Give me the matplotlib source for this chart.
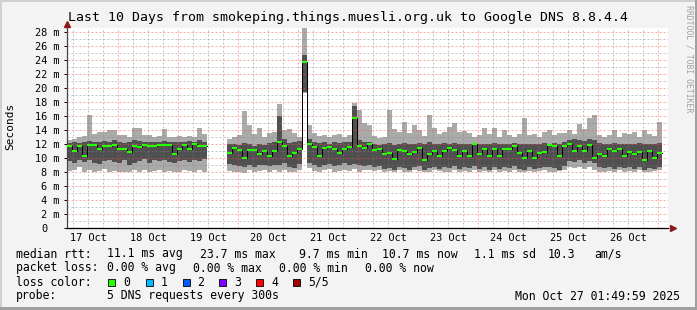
import numpy as np
import matplotlib
matplotlib.use("Agg")
import matplotlib.pyplot as plt
from matplotlib.patches import Rectangle
from matplotlib.transforms import ScaledTranslation

W, H = 697, 310

# ---------------- data (ms), one value per 2-hour step ----------------
step_hours = 2.0
start_hour = 3.6  # hours after 17 Oct 00:00
nan = np.nan

light_top = [12.6, 12.8, 13.0, 13.2, 16.2, 13.5, 13.8, 13.8, 14.0, 14.0,
             13.3, 13.3, 13.0, 14.3, 14.3, 13.4, 13.3, 13.0, 13.2, 14.2,
             13.0, 13.0, 13.2, 13.0, 13.2, 13.0, 14.3, 13.5, nan, nan,
             nan, nan, 12.8, 13.0, 13.4, 16.7, 14.8, 13.5, 14.3, 13.0,
             13.6, 13.8, 17.8, 14.0, 14.2, 13.6, 13.1, 28.6, 14.8, 13.6,
             13.2, 13.4, 13.0, 13.3, 13.5, 13.1, 13.4, 17.9, 16.9, 15.0,
             14.8, 13.2, 12.9, 13.0, 16.9, 14.2, 13.8, 15.2, 13.6, 14.8,
             14.0, 13.2, 16.2, 14.4, 13.5, 13.8, 14.5, 15.0, 13.7, 13.9,
             13.6, 13.0, 13.3, 14.3, 13.5, 14.3, 13.0, 14.0, 13.4, 13.1,
             13.5, 15.8, 13.4, 13.5, 13.0, 13.8, 14.0, 13.4, 13.6, 13.6,
             14.0, 13.5, 14.9, 14.2, 15.7, 16.2, 13.3, 13.0, 13.4, 14.0,
             13.1, 13.6, 13.5, 13.8, 13.0, 14.0, 13.5, 13.2, 15.2]
dark_top = [12.2, 12.3, 12.2, 12.4, 12.5, 12.3, 12.4, 12.5, 12.4, 12.6,
            12.3, 12.2, 12.3, 12.6, 12.5, 12.4, 12.3, 12.3, 12.4, 12.5,
            12.3, 12.4, 12.4, 12.3, 12.5, 12.4, 12.6, 12.4, nan, nan,
            nan, nan, 12.0, 12.1, 11.9, 12.2, 12.0, 11.8, 12.1, 11.9,
            12.2, 12.3, 16.0, 12.8, 12.2, 12.4, 12.5, 24.7, 12.8, 12.4,
            12.2, 12.3, 12.1, 12.4, 12.2, 12.3, 12.4, 17.5, 12.6, 12.4,
            12.3, 12.0, 11.9, 12.1, 12.2, 11.9, 12.0, 12.2, 12.0, 12.1,
            12.2, 12.0, 12.3, 12.1, 12.0, 12.2, 12.1, 12.2, 12.0, 12.1,
            12.1, 12.2, 12.0, 12.1, 12.0, 12.2, 12.0, 12.1, 12.0, 12.2,
            12.0, 12.1, 12.0, 12.1, 12.0, 12.2, 12.1, 12.2, 12.0, 12.3,
            12.6, 12.7, 12.6, 12.5, 12.7, 12.6, 12.2, 12.1, 12.0, 12.2,
            12.1, 12.0, 12.1, 12.0, 12.2, 12.0, 12.1, 12.0, 12.2]
median = [11.8, 11.1, 11.8, 10.4, 11.9, 11.9, 11.4, 11.8, 11.8, 11.9,
          11.4, 11.4, 10.9, 11.8, 11.6, 11.9, 11.8, 11.8, 11.9, 11.9,
          11.9, 10.6, 11.4, 11.9, 11.4, 12.0, 11.8, 11.8, nan, nan,
          nan, nan, 10.8, 11.5, 11.2, 10.0, 11.2, 11.2, 10.6, 11.1,
          10.4, 11.0, 12.3, 11.7, 10.4, 10.7, 11.4, 23.7, 12.0, 11.6,
          10.4, 11.5, 11.6, 11.4, 10.8, 11.4, 11.6, 15.7, 11.8, 11.5,
          12.0, 11.2, 11.4, 10.6, 10.8, 9.9, 11.2, 11.1, 10.6, 10.9,
          11.5, 9.8, 10.6, 11.1, 10.3, 11.0, 11.5, 11.2, 10.4, 11.1,
          10.3, 12.0, 10.6, 11.4, 10.3, 11.4, 10.3, 11.3, 11.4, 11.8,
          10.8, 10.1, 11.1, 10.1, 10.8, 10.9, 11.9, 11.8, 10.3, 11.8,
          12.0, 11.1, 11.8, 11.1, 11.9, 10.0, 10.6, 10.4, 11.4, 11.0,
          11.4, 10.4, 10.9, 10.6, 10.9, 9.8, 11.0, 10.0, 10.7]
dark_bottom = [9.6, 9.3, 9.8, 9.5, 9.7, 9.4, 9.2, 9.6, 9.8, 9.5,
               9.3, 9.8, 9.1, 9.4, 9.6, 9.9, 9.4, 9.7, 9.6, 9.8,
               9.5, 9.3, 9.6, 9.8, 9.5, 9.7, 9.6, 9.9, nan, nan,
               nan, nan, 9.2, 9.0, 8.9, 8.8, 9.0, 8.7, 9.1, 9.0,
               8.9, 9.1, 9.0, 9.3, 8.8, 8.6, 9.2, 19.5, 9.4, 9.1,
               8.8, 9.0, 9.2, 8.9, 9.0, 9.3, 9.1, 9.2, 9.0, 8.9,
               9.0, 8.7, 8.9, 8.5, 8.6, 8.4, 8.8, 8.6, 8.3, 8.7,
               8.9, 8.4, 8.6, 8.8, 8.5, 8.7, 8.6, 8.9, 8.5, 8.7,
               8.6, 8.9, 8.5, 8.7, 8.4, 8.8, 8.5, 8.7, 8.6, 8.9,
               8.5, 8.4, 8.7, 8.5, 8.6, 8.8, 8.7, 8.6, 8.4, 8.9,
               9.6, 9.5, 9.7, 9.4, 9.6, 9.3, 8.8, 8.6, 8.7, 8.5,
               8.8, 8.6, 8.7, 8.5, 8.8, 8.4, 8.6, 8.5, 8.7]
light_bottom = [8.2, 8.4, 8.8, 8.0, 8.3, 8.1, 8.2, 8.5, 8.0, 8.2,
                8.1, 8.0, 8.0, 8.3, 8.1, 8.4, 8.0, 8.2, 8.4, 8.1,
                8.2, 8.0, 8.1, 8.4, 8.2, 8.0, 8.3, 8.1, nan, nan,
                nan, nan, 8.2, 8.0, 8.1, 7.9, 8.3, 8.0, 8.2, 8.3,
                8.1, 8.3, 8.0, 8.4, 8.1, 8.0, 8.3, 19.3, 8.6, 8.2,
                8.0, 8.3, 8.5, 8.1, 8.2, 8.4, 8.2, 8.5, 8.1, 8.3,
                8.4, 8.2, 8.3, 8.1, 8.2, 8.0, 8.3, 8.1, 8.0, 8.3,
                8.2, 8.1, 8.0, 8.3, 8.2, 8.1, 8.0, 8.3, 8.1, 8.2,
                8.1, 8.3, 8.0, 8.2, 8.1, 8.3, 8.0, 8.2, 8.1, 8.4,
                8.0, 8.1, 8.2, 8.0, 8.2, 8.3, 8.1, 8.0, 8.2, 8.3,
                8.7, 8.6, 8.8, 8.5, 8.7, 8.4, 8.1, 8.0, 8.2, 8.0,
                8.3, 8.1, 8.2, 8.0, 8.3, 8.1, 8.0, 8.2, 8.3]

day_labels = ["17 Oct", "18 Oct", "19 Oct", "20 Oct", "21 Oct",
              "22 Oct", "23 Oct", "24 Oct", "25 Oct", "26 Oct"]
y_ticks = [0, 2, 4, 6, 8, 10, 12, 14, 16, 18, 20, 22, 24, 26, 28]
y_tick_labels = ["0", "2 m", "4 m", "6 m", "8 m", "10 m", "12 m", "14 m",
                 "16 m", "18 m", "20 m", "22 m", "24 m", "26 m", "28 m"]

title = "Last 10 Days from smokeping.things.muesli.org.uk to Google DNS 8.8.4.4"
loss_labels = ["0", "1", "2", "3", "4", "5/5"]
loss_colors = ["#26ff00", "#00b8ff", "#0059ff", "#7e00ff", "#ff0000", "#a10000"]

# ---------------- figure ----------------
BG = "#f3f3f3"
MONO = "DejaVu Sans Mono"
fig = plt.figure(figsize=(W / 100, H / 100), dpi=100, facecolor=BG)

def fx(px):
    return px / W

def fy(py):
    return 1 - py / H

x0, x1 = 67, 668
y0, y1 = 228.3, 28
ax = fig.add_axes([fx(x0), fy(y0), (x1 - x0) / W, (y0 - y1) / H])
ax.set_facecolor("white")

t = start_hour + step_hours * np.arange(len(median))
xs = np.column_stack([t, t + step_hours]).ravel()

def rep(a):
    return np.repeat(np.asarray(a, dtype=float), 2)

LIGHT = "#aaaaaa"
DARK = "#505050"
ax.fill_between(xs, rep(light_bottom), rep(dark_bottom), color=LIGHT, lw=0, zorder=2)
ax.fill_between(xs, rep(dark_bottom), rep(dark_top), color=DARK, lw=0, zorder=2)
ax.fill_between(xs, rep(dark_top), rep(light_top), color=LIGHT, lw=0, zorder=2)

# grid (dotted, drawn over the smoke like rrdtool)
xmin = (x0 - 58) / 2.5
xmax = (x1 - 58) / 2.5
ymax = (y0 - y1) / 7.0
minor_c = (0.5, 0.5, 0.5, 0.45)
major_c = (1.0, 0.3, 0.3, 0.5)
DOT = (0, (2, 2))
for v in range(1, 29):
    c = major_c if v % 2 == 0 else minor_c
    ax.axhline(v, color=c, lw=0.72, ls=DOT, zorder=3)
for h in range(6, 246, 6):
    c = major_c if h % 24 == 0 else minor_c
    ax.axvline(h, color=c, lw=0.72, ls=DOT, zorder=3)

# median: dark connector line + loss coloured dashes
ax.plot(xs, rep(median), color="black", lw=0.72, zorder=4)
ax.hlines(median, t, t + step_hours, color=loss_colors[0], lw=1.5, zorder=5)

ax.set_xlim(xmin, xmax)
ax.set_ylim(0, ymax)

noon = [12 + 24 * k for k in range(len(day_labels))]
ax.set_xticks(noon)
ax.set_xticklabels(day_labels, family=MONO, fontsize=7.4)
ax.tick_params(axis="x", length=0, pad=3.3)
ax.set_yticks(y_ticks)
ax.set_yticklabels(y_tick_labels, family=MONO, fontsize=7.4)
ax.tick_params(axis="y", length=2.2, width=0.72, pad=3.0)
# rrdtool leaves the "0" label in the same column as the other digits
zero_lab = ax.get_yticklabels()[0]
zero_lab.set_transform(zero_lab.get_transform() +
                       ScaledTranslation(-12.4 / 100, 0, fig.dpi_scale_trans))

for s in ("top", "right"):
    ax.spines[s].set_visible(False)
ax.spines["left"].set_color("#444444")
ax.spines["left"].set_linewidth(0.9)
ax.spines["bottom"].set_color("black")
ax.spines["bottom"].set_linewidth(0.9)

ARROW = "#8b1a1a"
ax.plot([0], [1.022], marker="^", ms=4.5, color=ARROW, transform=ax.transAxes,
        clip_on=False, zorder=6)
ax.plot([1.008], [0], marker=">", ms=4.5, color=ARROW, transform=ax.transAxes,
        clip_on=False, zorder=6)

# title, axis label, watermark
fig.text(fx(348), fy(18), title, ha="center", va="center", family=MONO, fontsize=9.55)
fig.text(fx(10), fy(126), "Seconds", rotation=90, ha="center", va="center",
         family=MONO, fontsize=8.0)
fig.text(fx(688.5), fy(59), "RRDTOOL / TOBI OETIKER", rotation=-90, ha="center",
         va="center", family=MONO, fontsize=5.9, color="#a0a0a0")

# legend block
LS = 8.3
def lt(x, y, s, ha="left"):
    fig.text(fx(x), fy(y), s, ha=ha, va="center", family=MONO, fontsize=LS)

ly1, ly2, ly3, ly4 = 254, 268, 282, 296
lt(16, ly1, "median rtt:")
lt(107, ly1, "11.1 ms avg")
lt(200, ly1, "23.7 ms max")
lt(299, ly1, "9.7 ms min")
lt(382, ly1, "10.7 ms now")
lt(474, ly1, "1.1 ms sd")
lt(548, ly1, "10.3")
lt(594, ly1, "am/s")

lt(16, ly2, "packet loss:")
lt(107, ly2, "0.00 % avg")
lt(193, ly2, "0.00 % max")
lt(279, ly2, "0.00 % min")
lt(365, ly2, "0.00 % now")

lt(16, ly3, "loss color:")
box_x = [108, 145.5, 182.5, 219, 256, 293]
for bx, lab, col in zip(box_x, loss_labels, loss_colors):
    fig.patches.append(Rectangle((fx(bx), fy(ly3 + 3.5)), 7 / W, 7 / H,
                                 transform=fig.transFigure, facecolor=col,
                                 edgecolor="black", lw=0.6))
    lt(bx + 15, ly3, lab)

lt(16, ly4, "probe:")
lt(107, ly4, "5 DNS requests every 300s")
lt(680, ly4, "Mon Oct 27 01:49:59 2025", ha="right")

# frame
fig.patches.append(Rectangle((0, 1 - 2 / H), 1, 2 / H, transform=fig.transFigure,
                             facecolor="#d0d0d0", lw=0))
fig.patches.append(Rectangle((0, 0), 2 / W, 1, transform=fig.transFigure,
                             facecolor="#d0d0d0", lw=0))
fig.patches.append(Rectangle((0, 0), 1, 3 / H, transform=fig.transFigure,
                             facecolor="#a0a0a0", lw=0))
fig.patches.append(Rectangle((1 - 2 / W, 0), 2 / W, 1, transform=fig.transFigure,
                             facecolor="#a0a0a0", lw=0))

fig.savefig("out.png", dpi=100, facecolor=BG)
